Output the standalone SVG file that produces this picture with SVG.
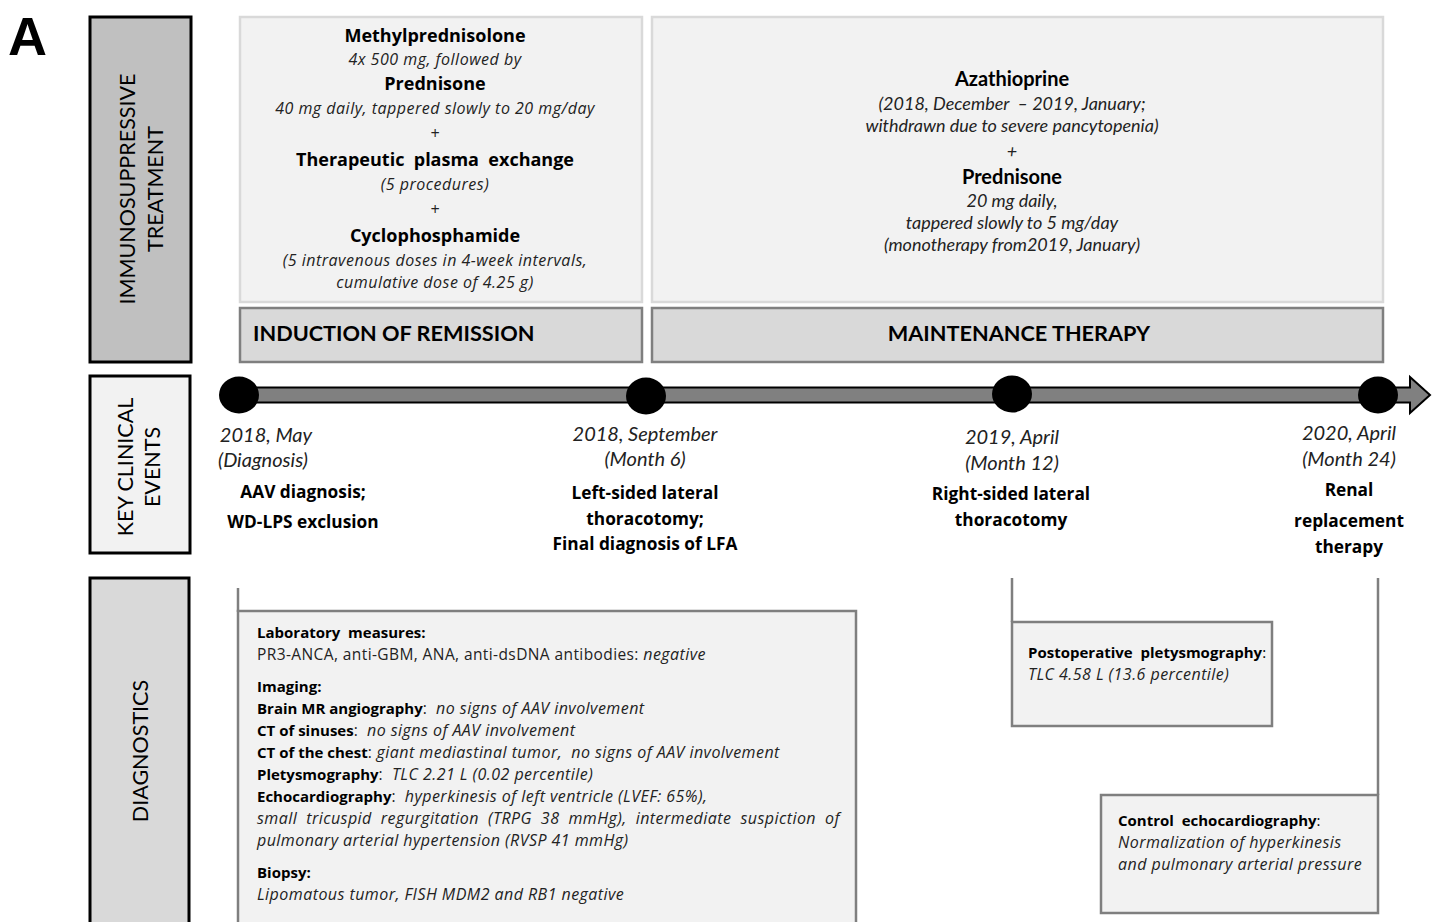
<svg xmlns="http://www.w3.org/2000/svg" width="1437" height="922" viewBox="0 0 1437 922">
<style>
text{font-family:"Open Sans","Liberation Sans",sans-serif;fill:#000}
.b{font-weight:bold}
.i{font-style:italic}
.c{text-anchor:middle}
.hdr{font-family:Lato,"Liberation Sans",sans-serif;font-size:21.5px;text-anchor:middle}
.tb{font-size:18px;font-weight:bold;text-anchor:middle}
.ti{font-size:16px;font-style:italic;text-anchor:middle;fill:#222;letter-spacing:0.5px}
.mb{font-family:Lato,"Liberation Sans",sans-serif;font-size:20px;font-weight:bold;text-anchor:middle}
.mi{font-family:Lato,"Liberation Sans",sans-serif;font-size:18px;font-style:italic;text-anchor:middle;fill:#222}
.lab{font-family:Lato,"Liberation Sans",sans-serif;font-size:21.7px;font-weight:bold}
.date{font-family:Lato,"Liberation Sans",sans-serif;font-size:20px;font-style:italic;text-anchor:middle;fill:#222}
.ev{font-size:17.3px;font-weight:bold;text-anchor:middle}
.d{font-size:15.5px;fill:#222;letter-spacing:0.4px}
.d .i,.d.i{font-size:16px;letter-spacing:0.45px}
.db{font-size:15px;font-weight:bold;fill:#000;letter-spacing:0}
.conn{stroke:#7f7f7f;stroke-width:2.5;fill:none}
.dbox{fill:#f2f2f2;stroke:#7f7f7f;stroke-width:2.5}
.tbox{fill:#f2f2f2;stroke:#d9d9d9;stroke-width:2.5}
.lbox{fill:#d9d9d9;stroke:#7f7f7f;stroke-width:2.5}
.sbox{stroke:#000;stroke-width:3}
</style>
<rect width="1437" height="922" fill="#fff"/>
<text x="8" y="55" style="font-family:'Liberation Sans',Arial,sans-serif;font-size:54px;font-weight:bold">A</text>

<g id="side-treatment">
<rect class="sbox" x="90" y="17" width="101" height="345" fill="#c0c0c0"/>
<text class="hdr" transform="translate(135,189) rotate(-90)">IMMUNOSUPPRESSIVE</text>
<text class="hdr" transform="translate(163,189) rotate(-90)">TREATMENT</text>
</g>
<g id="side-events">
<rect class="sbox" x="90" y="376" width="100" height="177" fill="#f2f2f2"/>
<text class="hdr" transform="translate(133,467) rotate(-90)">KEY CLINICAL</text>
<text class="hdr" transform="translate(160,467) rotate(-90)">EVENTS</text>
</g>
<g id="side-diagnostics">
<rect class="sbox" x="90" y="578" width="99" height="350" fill="#d9d9d9"/>
<text class="hdr" transform="translate(148,751) rotate(-90)">DIAGNOSTICS</text>
</g>

<g id="induction-treatment">
<rect class="tbox" x="240" y="17" width="402" height="285"/>
<text class="tb" x="435" y="42">Methylprednisolone</text>
<text class="ti" x="435" y="65">4x 500 mg, followed by</text>
<text class="tb" x="435" y="90">Prednisone</text>
<text class="ti" x="435" y="114">40 mg daily, tappered slowly to 20 mg/day</text>
<text class="ti" x="435" y="139">+</text>
<text class="tb" x="435" y="166" xml:space="preserve">Therapeutic  plasma  exchange</text>
<text class="ti" x="435" y="190">(5 procedures)</text>
<text class="ti" x="435" y="215">+</text>
<text class="tb" x="435" y="242">Cyclophosphamide</text>
<text class="ti" x="435" y="266">(5 intravenous doses in 4-week intervals,</text>
<text class="ti" x="435" y="288">cumulative dose of 4.25 g)</text>
</g>
<g id="induction-label">
<rect class="lbox" x="240" y="308" width="402" height="54"/>
<text class="lab" x="253" y="341">INDUCTION OF REMISSION</text>
</g>

<g id="maintenance-treatment">
<rect class="tbox" x="652" y="17" width="731" height="285"/>
<text class="mb" x="1012" y="86">Azathioprine</text>
<text class="mi" x="1012" y="110" xml:space="preserve">(2018, December  – 2019, January;</text>
<text class="mi" x="1012" y="132">withdrawn due to severe pancytopenia)</text>
<text class="mi" x="1012" y="157">+</text>
<text class="mb" x="1012" y="184">Prednisone</text>
<text class="mi" x="1012" y="207">20 mg daily,</text>
<text class="mi" x="1012" y="229">tappered slowly to 5 mg/day</text>
<text class="mi" x="1012" y="251">(monotherapy from2019, January)</text>
</g>
<g id="maintenance-label">
<rect class="lbox" x="652" y="308" width="731" height="54"/>
<text class="lab c" x="1019" y="341">MAINTENANCE THERAPY</text>
</g>

<g id="timeline">
<path d="M238,387.5 H1410 V377 L1430,395 L1410,413 V402.5 H238 Z" fill="#808080" stroke="#000" stroke-width="2"/>
</g>

<g id="event-2018-may">
<ellipse cx="239" cy="395" rx="20" ry="18.5" fill="#000"/>
<text class="date" x="266" y="442">2018, May</text>
<text class="date" x="263" y="467">(Diagnosis)</text>
<text class="ev" x="303" y="498">AAV diagnosis;</text>
<text class="ev" x="303" y="528">WD-LPS exclusion</text>
</g>
<g id="event-2018-sep">
<ellipse cx="646" cy="396" rx="20" ry="18.5" fill="#000"/>
<text class="date" x="645" y="441">2018, September</text>
<text class="date" x="645" y="466">(Month 6)</text>
<text class="ev" x="645" y="499">Left-sided lateral</text>
<text class="ev" x="645" y="525">thoracotomy;</text>
<text class="ev" x="645" y="550">Final diagnosis of LFA</text>
</g>
<g id="event-2019-apr">
<ellipse cx="1012" cy="394" rx="20" ry="18.5" fill="#000"/>
<text class="date" x="1012" y="444">2019, April</text>
<text class="date" x="1012" y="470">(Month 12)</text>
<text class="ev" x="1011" y="500">Right-sided lateral</text>
<text class="ev" x="1011" y="526">thoracotomy</text>
</g>
<g id="event-2020-apr">
<ellipse cx="1378" cy="395" rx="20" ry="18.5" fill="#000"/>
<text class="date" x="1349" y="440">2020, April</text>
<text class="date" x="1349" y="466">(Month 24)</text>
<text class="ev" x="1349" y="496">Renal</text>
<text class="ev" x="1349" y="527">replacement</text>
<text class="ev" x="1349" y="553">therapy</text>
</g>

<g id="connectors">
<path class="conn" d="M238,588 V612"/>
<path class="conn" d="M1012,578 V622"/>
<path class="conn" d="M1378,578 V795"/>
</g>

<g id="diag-initial">
<rect class="dbox" x="238" y="611" width="618" height="320"/>
<text class="d db" x="257" y="638" xml:space="preserve">Laboratory  measures:</text>
<text class="d" x="257" y="660">PR3-ANCA, anti-GBM, ANA, anti-dsDNA antibodies: <tspan class="i">negative</tspan></text>
<text class="d db" x="257" y="692">Imaging:</text>
<text class="d" x="257" y="714" xml:space="preserve"><tspan class="db">Brain MR angiography</tspan>:  <tspan class="i">no signs of AAV involvement</tspan></text>
<text class="d" x="257" y="736" xml:space="preserve"><tspan class="db">CT of sinuses</tspan>:  <tspan class="i">no signs of AAV involvement</tspan></text>
<text class="d" x="257" y="758" xml:space="preserve"><tspan class="db">CT of the chest</tspan>: <tspan class="i">giant mediastinal tumor,  no signs of AAV involvement</tspan></text>
<text class="d" x="257" y="780" xml:space="preserve"><tspan class="db">Pletysmography</tspan>:  <tspan class="i">TLC 2.21 L (0.02 percentile)</tspan></text>
<text class="d" x="257" y="802" xml:space="preserve"><tspan class="db">Echocardiography</tspan>:  <tspan class="i">hyperkinesis of left ventricle (LVEF: 65%),</tspan></text>
<text class="d i" x="257" y="824" word-spacing="4.4">small tricuspid regurgitation (TRPG 38 mmHg), intermediate suspiction of</text>
<text class="d i" x="257" y="846">pulmonary arterial hypertension (RVSP 41 mmHg)</text>
<text class="d db" x="257" y="878">Biopsy:</text>
<text class="d i" x="257" y="900">Lipomatous tumor, FISH MDM2 and RB1 negative</text>
</g>

<g id="diag-postop">
<rect class="dbox" x="1012" y="622" width="260" height="104"/>
<text class="d db" x="1028" y="658" xml:space="preserve">Postoperative  pletysmography<tspan style="font-weight:normal">:</tspan></text>
<text class="d i" x="1028" y="680">TLC 4.58 L (13.6 percentile)</text>
</g>

<g id="diag-control">
<rect class="dbox" x="1101" y="795" width="277" height="118"/>
<text class="d db" x="1118" y="826" xml:space="preserve">Control  echocardiography<tspan style="font-weight:normal">:</tspan></text>
<text class="d i" x="1118" y="848">Normalization of hyperkinesis</text>
<text class="d i" x="1118" y="870">and pulmonary arterial pressure</text>
</g>
</svg>
